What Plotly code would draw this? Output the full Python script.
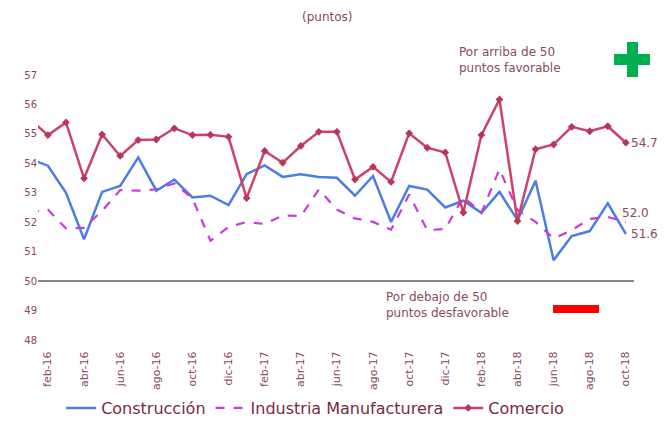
import plotly.graph_objects as go

# meses ene-16 .. oct-18
months = ["ene-16", "feb-16", "mar-16", "abr-16", "may-16", "jun-16", "jul-16", "ago-16",
          "sep-16", "oct-16", "nov-16", "dic-16", "ene-17", "feb-17", "mar-17", "abr-17",
          "may-17", "jun-17", "jul-17", "ago-17", "sep-17", "oct-17", "nov-17", "dic-17",
          "ene-18", "feb-18", "mar-18", "abr-18", "may-18", "jun-18", "jul-18", "ago-18",
          "sep-18", "oct-18"]

construccion = [54.15, 53.92, 53.00, 51.42, 53.03, 53.23, 54.20, 53.07, 53.45, 52.84,
                52.90, 52.58, 53.63, 53.93, 53.54, 53.63, 53.54, 53.51, 52.90, 53.57,
                52.01, 53.23, 53.11, 52.50, 52.73, 52.32, 53.03, 52.07, 53.41, 50.71,
                51.53, 51.70, 52.64, 51.60]

manufactura = [52.35, 52.43, 51.79, 51.81, 52.39, 53.09, 53.07, 53.12, 53.32, 52.81,
               51.37, 51.84, 52.01, 51.94, 52.23, 52.21, 53.11, 52.43, 52.13, 52.01,
               51.75, 52.94, 51.73, 51.77, 52.86, 52.32, 53.80, 52.41, 52.01, 51.45,
               51.73, 52.11, 52.18, 52.00]

comercio = [55.50, 54.96, 55.39, 53.49, 54.98, 54.25, 54.79, 54.81, 55.19, 54.96,
            54.97, 54.90, 52.82, 54.42, 54.02, 54.59, 55.07, 55.07, 53.45, 53.88,
            53.37, 55.02, 54.53, 54.37, 52.33, 54.96, 56.17, 52.04, 54.48, 54.64,
            55.24, 55.09, 55.26, 54.70]

tick_months = months[1::2]
y_ticks = list(range(48, 58))

FONT = "DejaVu Sans"
TXT = "#8A4A5E"
BLUE = "#4A7EE6"
MAGENTA = "#C93AD8"
RED = "#CF4268"

fig = go.Figure()

fig.add_trace(go.Scatter(x=months, y=construccion, name="Construcción", mode="lines",
                         line=dict(color=BLUE, width=2.5)))
fig.add_trace(go.Scatter(x=months, y=manufactura, name="Industria Manufacturera", mode="lines",
                         line=dict(color=MAGENTA, width=2.2, dash="dash")))
fig.add_trace(go.Scatter(x=months, y=comercio, name="Comercio", mode="lines+markers",
                         line=dict(color=RED, width=2.5),
                         marker=dict(symbol="diamond", size=6, color="#B8365A")))

# linea de 50 puntos
fig.add_shape(type="line", xref="paper", x0=0, x1=1, yref="y", y0=50, y1=50,
              line=dict(color="#5A5A5A", width=1.5))

# etiquetas finales
lab_font = dict(family=FONT, size=12, color=TXT)
fig.add_annotation(x=months[-1], y=comercio[-1], text=f"{comercio[-1]:.1f}", showarrow=False,
                   xanchor="left", xshift=3, font=lab_font)
fig.add_annotation(x=months[-1], y=manufactura[-1], text=f"{manufactura[-1]:.1f}", showarrow=False,
                   xanchor="left", xshift=-6, yshift=9, font=lab_font)
fig.add_annotation(x=months[-1], y=construccion[-1], text=f"{construccion[-1]:.1f}", showarrow=False,
                   xanchor="left", xshift=3, font=lab_font)


# posiciones en pixeles de la ventana -> coordenadas paper del area de trazado
def px_x(p):
    return (p - 37.7) / 596.3


def px_y(p):
    return (340 - p) / 265


# textos
fig.add_annotation(xref="paper", yref="paper", x=px_x(457), y=px_y(60), xanchor="left", yanchor="middle",
                   text="Por arriba de 50<br>puntos favorable", align="left", showarrow=False,
                   font=dict(family=FONT, size=12, color=TXT))
fig.add_annotation(xref="paper", yref="paper", x=px_x(384), y=px_y(305), xanchor="left", yanchor="middle",
                   text="Por debajo de 50<br>puntos desfavorable", align="left", showarrow=False,
                   font=dict(family=FONT, size=12, color=TXT))
fig.add_annotation(xref="paper", yref="paper", x=px_x(327), y=px_y(17), xanchor="center", yanchor="middle",
                   text="(puntos)", showarrow=False, font=dict(family=FONT, size=12, color=TXT))

# signo + verde y barra roja
fig.add_shape(type="rect", xref="paper", yref="paper", x0=px_x(614), x1=px_x(650),
              y0=px_y(65), y1=px_y(54), fillcolor="#00B050", line_width=0)
fig.add_shape(type="rect", xref="paper", yref="paper", x0=px_x(627), x1=px_x(638),
              y0=px_y(77), y1=px_y(42), fillcolor="#00B050", line_width=0)
fig.add_shape(type="rect", xref="paper", yref="paper", x0=px_x(553), x1=px_x(599),
              y0=px_y(313), y1=px_y(305), fillcolor="#FF0000", line_width=0)

fig.update_xaxes(type="category", range=[0.45, 33.45], tickvals=tick_months, ticktext=tick_months,
                 tickangle=-90, showgrid=False, showline=False, ticks="outside", ticklen=6,
                 tickcolor="rgba(0,0,0,0)", automargin=False,
                 tickfont=dict(family=FONT, size=11, color=TXT))
fig.update_yaxes(range=[48, 57], tickvals=y_ticks, showgrid=False, zeroline=False, showline=False,
                 automargin=False, tickfont=dict(family=FONT, size=10, color=TXT))

# la pagina deja 8px de margen en el body: la figura ocupa 663x417
fig.update_layout(width=663, height=417, plot_bgcolor="white", paper_bgcolor="white",
                  margin=dict(l=30, r=37, t=67, b=85),
                  showlegend=True,
                  legend=dict(orientation="h", x=0.465, xanchor="center",
                              yref="container", y=0.0, yanchor="bottom",
                              itemwidth=30, tracegroupgap=0,
                              font=dict(family=FONT, size=16, color="#7A2A45")))

fig.write_html("out.html")
